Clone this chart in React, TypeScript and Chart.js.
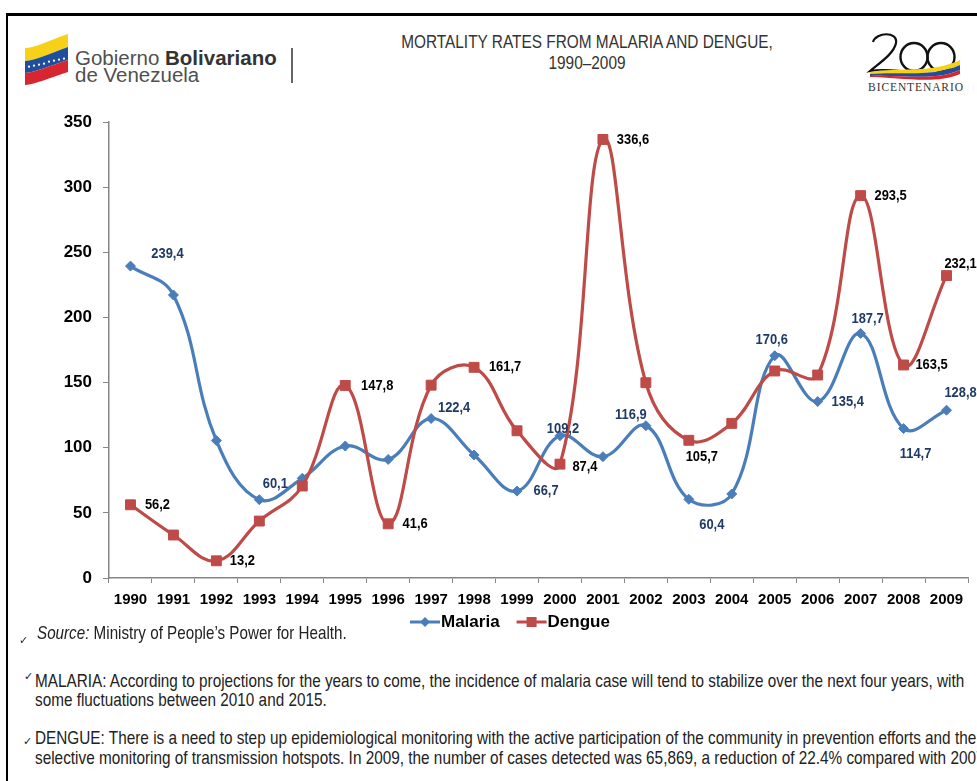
import React, { useEffect, useRef } from 'react';
import { Chart, registerables } from 'chart.js';

Chart.register(...registerables);

// ---- data ----
const years = ['1990', '1991', '1992', '1993', '1994', '1995', '1996', '1997', '1998', '1999', '2000', '2001', '2002', '2003', '2004', '2005', '2006', '2007', '2008', '2009'];
const malaria = [239.4, 217.2, 105.5, 60.1, 76.5, 101.3, 91.0, 122.4, 94.4, 66.7, 109.2, 93.1, 116.9, 60.4, 64.5, 170.6, 135.4, 187.7, 114.7, 128.8];
const dengue = [56.2, 33.0, 13.2, 43.7, 70.6, 147.8, 41.6, 148.0, 161.7, 113.0, 87.4, 336.6, 149.9, 105.7, 118.7, 158.9, 155.8, 293.5, 163.5, 232.1];
const yMin = 0;
const yMax = 350;
const yStep = 50;
const seriesNames = ['Malaria', 'Dengue'];

// which points carry a value label (true = labelled)
const malariaLabelled = [true, false, false, true, false, false, false, true, false, true, true, false, true, true, false, true, true, true, true, true];
const dengueLabelled = [true, false, true, false, false, true, true, false, true, false, true, true, false, true, false, false, false, true, true, true];

const SANS = "'Liberation Sans', Arial, sans-serif";

const BLUE = '#4A7EBB';
const RED = '#BE4B48';

// label offsets (text centre relative to point), in px
const malariaOffsets: Record<number, [number, number]> = {
  0: [37, -12], 3: [16, -16], 7: [23, -11], 9: [29, 0], 10: [3, -7], 12: [-15, -11],
  13: [23, 26], 15: [-3, -16], 16: [30, 0], 17: [7, -15], 18: [12, 25], 19: [14, -17],
};
const dengueOffsets: Record<number, [number, number]> = {
  0: [27, 0], 2: [26, 0], 5: [32, 0], 6: [27, 0], 8: [31, 0], 10: [25, 3], 11: [30, 0],
  13: [13, 17], 17: [30, 0], 18: [28, 0], 19: [14, -12],
};

const labelPlugin = {
  id: 'valueLabels',
  afterDatasetsDraw(chart: any) {
    const { ctx } = chart;
    const cfg = [
      { labelled: malariaLabelled, offs: malariaOffsets, color: '#1F3A64' },
      { labelled: dengueLabelled, offs: dengueOffsets, color: '#000000' },
    ];
    chart.data.datasets.forEach((ds: any, di: number) => {
      const meta = chart.getDatasetMeta(di);
      const c = cfg[di];
      meta.data.forEach((pt: any, i: number) => {
        if (!c.labelled[i]) return;
        const o = c.offs[i] || [25, 0];
        const v = ds.data[i] as number;
        ctx.save();
        ctx.translate(pt.x + o[0], pt.y + o[1]);
        ctx.scale(0.86, 1);
        ctx.font = `bold 15px ${SANS}`;
        ctx.fillStyle = c.color;
        ctx.textAlign = 'center';
        ctx.textBaseline = 'middle';
        ctx.fillText(v.toFixed(1).replace('.', ','), 0, 0);
        ctx.restore();
      });
    });
  },
};

const legendPlugin = {
  id: 'excelLegend',
  afterDraw(chart: any) {
    const { ctx, chartArea } = chart;
    const y = chartArea.bottom + 44;
    let x = chartArea.left + 301;
    ctx.save();
    ctx.font = `bold 17px ${SANS}`;
    ctx.textBaseline = 'middle';
    ctx.textAlign = 'left';
    chart.data.datasets.forEach((ds: any, di: number) => {
      const color = ds.borderColor;
      ctx.strokeStyle = color;
      ctx.lineWidth = 3;
      ctx.beginPath();
      ctx.moveTo(x, y);
      ctx.lineTo(x + 30, y);
      ctx.stroke();
      ctx.fillStyle = color;
      if (di === 0) {
        ctx.beginPath();
        ctx.moveTo(x + 15, y - 5);
        ctx.lineTo(x + 20, y);
        ctx.lineTo(x + 15, y + 5);
        ctx.lineTo(x + 10, y);
        ctx.closePath();
        ctx.fill();
      } else {
        ctx.fillRect(x + 10, y - 5, 10, 10);
      }
      ctx.fillStyle = '#000';
      ctx.fillText(ds.label, x + 31, y);
      x += 31 + ctx.measureText(ds.label).width + 17;
    });
    ctx.restore();
  },
};

function ChartCanvas() {
  const ref = useRef<HTMLCanvasElement | null>(null);
  useEffect(() => {
    if (!ref.current) return;
    const chart = new Chart(ref.current, {
      type: 'line',
      data: {
        labels: years,
        datasets: [
          {
            label: seriesNames[0],
            data: malaria,
            borderColor: BLUE,
            backgroundColor: BLUE,
            borderWidth: 3.2,
            pointStyle: 'rectRot',
            pointRadius: 5,
            pointBackgroundColor: BLUE,
            pointBorderColor: BLUE,
            pointBorderWidth: 1,
            tension: 0.4,
            order: 2,
          },
          {
            label: seriesNames[1],
            data: dengue,
            borderColor: RED,
            backgroundColor: RED,
            borderWidth: 3.2,
            pointStyle: 'rect',
            pointRadius: 7,
            pointBackgroundColor: RED,
            pointBorderColor: RED,
            pointBorderWidth: 1,
            tension: 0.4,
            order: 1,
          },
        ],
      },
      options: {
        responsive: false,
        animation: false,
        devicePixelRatio: 1,
        layout: { padding: { left: 56, right: 9, top: 22, bottom: 22 } },
        plugins: { legend: { display: false }, tooltip: { enabled: false }, title: { display: false } },
        scales: {
          x: {
            type: 'category',
            offset: true,
            grid: { display: true, drawOnChartArea: false, drawTicks: true, tickLength: 5, color: '#868686', offset: true },
            border: { display: true, color: '#868686', width: 1.5 },
            ticks: { color: '#000', font: { family: SANS, size: 15, weight: 'bold' }, padding: 8, maxRotation: 0, autoSkip: false },
            afterFit: (s: any) => { s.height = 40; },
          },
          y: {
            min: yMin,
            max: yMax,
            grid: { display: true, drawOnChartArea: false, drawTicks: true, tickLength: 6, color: '#868686' },
            border: { display: true, color: '#868686', width: 1.5 },
            ticks: { stepSize: yStep, color: '#000', font: { family: SANS, size: 17, weight: 'bold' }, padding: 11 },
            afterFit: (s: any) => { s.width = 53; },
          },
        },
      },
      plugins: [labelPlugin, legendPlugin],
    } as any);
    return () => chart.destroy();
  }, []);
  return (
    <canvas
      ref={ref}
      width={977}
      height={540}
      style={{ position: 'absolute', left: 0, top: 100, width: 977, height: 540 }}
    />
  );
}

function Flag() {
  return (
    <svg width={48} height={56} viewBox="0 0 48 56" style={{ position: 'absolute', left: 23, top: 31 }}>
      <path d="M2 17 C12 17, 24 10, 45 3 L45 16 C26 23, 13 29, 2 30 Z" fill="#F7D117" />
      <path d="M2 30 C13 29, 26 23, 45 16 L45 29 C26 35, 13 41, 2 42 Z" fill="#1F4E9C" />
      <path d="M2 42 C13 41, 26 35, 45 29 L45 41 C26 47, 13 53, 2 54 Z" fill="#D7262F" />
      {[6, 11, 16, 21, 26, 31, 36, 41].map((x, i) => (
        <circle key={i} cx={x} cy={36.5 - (x - 2) * 0.2 - (i > 3 ? 1 : 0)} r={1.1} fill="#fff" />
      ))}
    </svg>
  );
}

function Bicentenario() {
  return (
    <svg width={117} height={70} viewBox="0 0 117 70" style={{ position: 'absolute', left: 858, top: 28 }}>
      <path d="M15 14 C18 4, 40 3, 38 15 C36 26, 20 36, 12 43 C24 41, 32 42, 42 43" stroke="#111" strokeWidth={2.2} fill="none" />
      <ellipse cx={56} cy={29} rx={13.5} ry={14} stroke="#111" strokeWidth={2.4} fill="none" />
      <ellipse cx={83} cy={29} rx={13.5} ry={14} stroke="#111" strokeWidth={2.4} fill="none" />
      <path d="M12 44 C40 39, 72 46, 102 32 L102 37 C74 50, 40 43, 12 46 Z" fill="#F7D117" />
      <path d="M12 46 C40 43, 74 50, 102 37 L102 42 C76 54, 40 46, 12 48 Z" fill="#1F4E9C" />
      <path d="M12 48 C40 46, 76 54, 102 42 L102 46 C78 57, 40 49, 12 49 Z" fill="#D7262F" />
      <text x={58} y={63} textAnchor="middle" fontFamily="'Liberation Serif', 'DejaVu Serif', serif" fontSize={11.5} letterSpacing={0.9} fill="#333">BICENTENARIO</text>
    </svg>
  );
}

const condensed = (sx: number): React.CSSProperties => ({
  transform: `scaleX(${sx})`,
  transformOrigin: 'left center',
  whiteSpace: 'nowrap',
});

export default function App() {
  const textColor = '#222';
  const check: React.CSSProperties = { position: 'absolute', fontSize: 11, lineHeight: '14px', fontFamily: "'DejaVu Sans', sans-serif", color: textColor };
  return (
    <div style={{ position: 'absolute', left: 0, top: 0, width: 977, height: 781, overflow: 'hidden', background: '#fff', fontFamily: SANS }}>
      <div style={{ position: 'absolute', left: 6, top: 13, width: 1100, height: 900, borderTop: '3px solid #000', borderLeft: '2px solid #000' }} />
      <Flag />
      <div style={{ position: 'absolute', left: 75, top: 48, fontSize: 20.5, lineHeight: '20px', color: '#505050', whiteSpace: 'nowrap' }}>
        Gobierno <b style={{ color: '#333' }}>Bolivariano</b>
      </div>
      <div style={{ position: 'absolute', left: 75, top: 65, fontSize: 20.5, lineHeight: '20px', color: '#505050', whiteSpace: 'nowrap' }}>
        de Venezuela
      </div>
      <div style={{ position: 'absolute', left: 291, top: 48, width: 2, height: 35, background: '#666' }} />
      <div style={{ position: 'absolute', left: 287, top: 31, width: 600, textAlign: 'center', fontSize: 19, lineHeight: '21px', color: '#333', whiteSpace: 'nowrap', transform: 'scaleX(0.81)', transformOrigin: 'center center' }}>
        MORTALITY RATES FROM MALARIA AND DENGUE,
        <br />
        1990–2009
      </div>
      <Bicentenario />
      <ChartCanvas />
      <div style={{ ...check, left: 19, top: 634 }}>✓</div>
      <div style={{ position: 'absolute', left: 37, top: 623, fontSize: 19, lineHeight: '20px', color: textColor, ...condensed(0.8) }}>
        <i>Source:</i> Ministry of People’s Power for Health.
      </div>
      <div style={{ ...check, left: 24, top: 670 }}>✓</div>
      <div style={{ position: 'absolute', left: 35, top: 670.5, fontSize: 19, lineHeight: '19px', color: textColor, ...condensed(0.805) }}>
        MALARIA: According to projections for the years to come, the incidence of malaria case will tend to stabilize over the next four years, with
        <br />
        some fluctuations between 2010 and 2015.
      </div>
      <div style={{ ...check, left: 23, top: 735 }}>✓</div>
      <div style={{ position: 'absolute', left: 35, top: 727.5, fontSize: 19, lineHeight: '20.3px', color: textColor, ...condensed(0.807) }}>
        DENGUE: There is a need to step up epidemiological monitoring with the active participation of the community in prevention efforts and the
        <br />
        selective monitoring of transmission hotspots. In 2009, the number of cases detected was 65,869, a reduction of 22.4% compared with 2007.
      </div>
    </div>
  );
}
